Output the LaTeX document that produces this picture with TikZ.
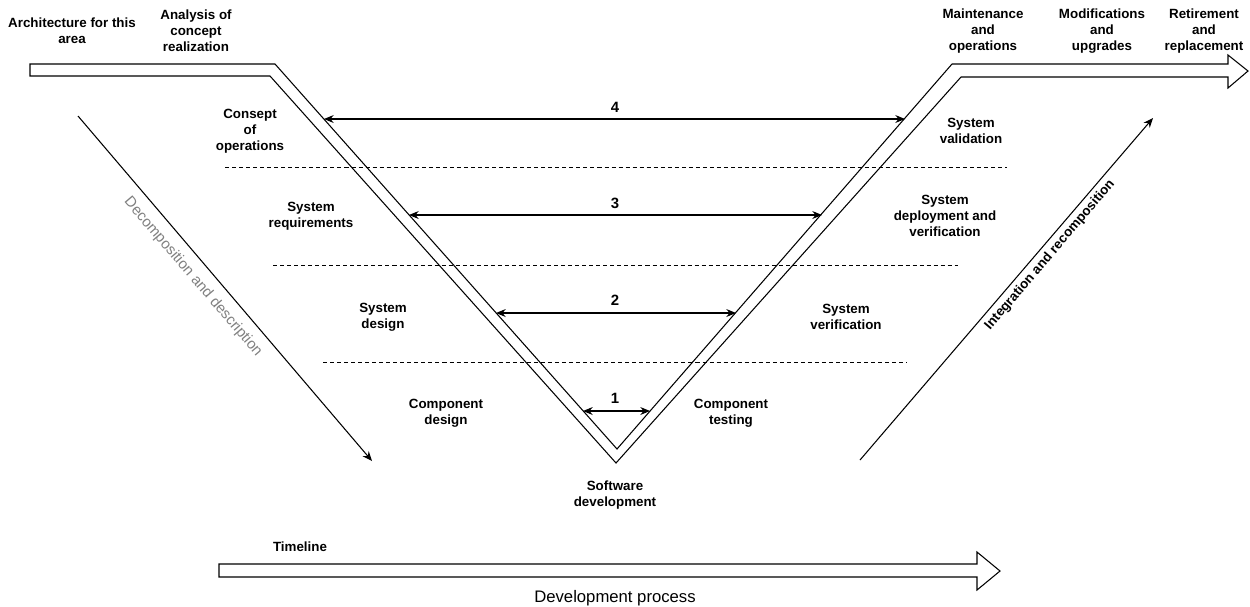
\documentclass[tikz,border=0pt]{standalone}
\usepackage{fontspec}
\setmainfont{Liberation Sans}
\usetikzlibrary{arrows.meta}
\begin{document}
\begin{tikzpicture}[x=0.02cm,y=-0.02cm,line width=0.6pt,
  lbl/.style={font=\bfseries\fontsize{7.6}{9}\selectfont,align=center,inner sep=0pt},
  num/.style={font=\bfseries\fontsize{8.5}{9}\selectfont,inner sep=0pt},
  sepline/.style={dash pattern=on 2.3pt off 1.7pt,line width=0.5pt},
  twoway/.style={{Stealth[length=5.5pt,width=4.5pt]}-{Stealth[length=5.5pt,width=4.5pt]}},
  oneway/.style={-{Stealth[length=5.5pt,width=4.5pt]}},
  band/.style={line width=0.6pt,line join=miter}]
\useasboundingbox (0,0) rectangle (1250,606);

% V band (hollow arrow)
\draw[band] (30,64) -- (275,64) -- (617,449) -- (952,64) -- (1228,64) -- (1228,55)
  -- (1248,71) -- (1228,88) -- (1228,77) -- (961,77) -- (616,463) -- (270,76) -- (30,76) -- cycle;

% timeline hollow arrow
\draw[band] (219,564) -- (977,564) -- (977,552) -- (1000,571) -- (977,590) -- (977,577) -- (219,577) -- cycle;

% dashed separators
\coordinate (d1a) at (225,167); \coordinate (d1b) at (1007,167);
\coordinate (d2a) at (273,265); \coordinate (d2b) at (958,265);
\coordinate (d3a) at (323,362); \coordinate (d3b) at (907,362);
\draw[sepline] (d1a) -- (d1b);
\draw[sepline] (d2a) -- (d2b);
\draw[sepline] (d3a) -- (d3b);

% level arrows
\coordinate (a4l) at (324,119); \coordinate (a4r) at (905,119);
\coordinate (a3l) at (409,215); \coordinate (a3r) at (822,215);
\coordinate (a2l) at (496,313); \coordinate (a2r) at (736,313);
\coordinate (a1l) at (583,411); \coordinate (a1r) at (650,411);
\draw[twoway] (a4l) -- (a4r);
\draw[twoway] (a3l) -- (a3r);
\draw[twoway] (a2l) -- (a2r);
\draw[twoway] (a1l) -- (a1r);
\node[num] (n4) at (615,107) {4};
\node[num] (n3) at (615,203) {3};
\node[num] (n2) at (615,300) {2};
\node[num] (n1) at (615,398) {1};

% decomposition / integration arrows
\coordinate (dcs) at (78,116); \coordinate (dce) at (372,461);
\draw[oneway] (dcs) -- (dce);
\node[font=\fontsize{8.5}{10}\selectfont,text=black!50,rotate=-49.5,inner sep=0pt] (dctext) at (193,277) {Decomposition and description};
\coordinate (irs) at (860,460); \coordinate (ire) at (1153,118);
\draw[oneway] (irs) -- (ire);
\node[lbl,rotate=49.5] (irtext) at (1050,255) {Integration and recomposition};

% top labels
\node[lbl] (arch) at (72,31) {Architecture for this\\area};
\node[lbl] (anal) at (196,31) {Analysis of\\concept\\realization};
\node[lbl] (maint) at (983,31) {Maintenance\\and\\operations};
\node[lbl] (modif) at (1102,31) {Modifications\\and\\upgrades};
\node[lbl] (retire) at (1204,31) {Retirement\\and\\replacement};

% side labels
\node[lbl] (conops) at (250,131) {Consept\\of\\operations};
\node[lbl] (sysreq) at (311,216) {System\\requirements};
\node[lbl] (sysdes) at (383,317) {System\\design};
\node[lbl] (compdes) at (446,413) {Component\\design};
\node[lbl] (softdev) at (615,495) {Software\\development};
\node[lbl] (comptest) at (731,413) {Component\\testing};
\node[lbl] (sysver) at (846,317) {System\\verification};
\node[lbl] (sysdep) at (945,216) {System\\deployment and\\verification};
\node[lbl] (sysval) at (971,131) {System\\validation};

% timeline labels
\node[lbl] (tl) at (300,547) {Timeline};
\node[font=\fontsize{9.5}{11}\selectfont,inner sep=0pt] (devproc) at (615,598) {Development process};
\end{tikzpicture}
\end{document}
